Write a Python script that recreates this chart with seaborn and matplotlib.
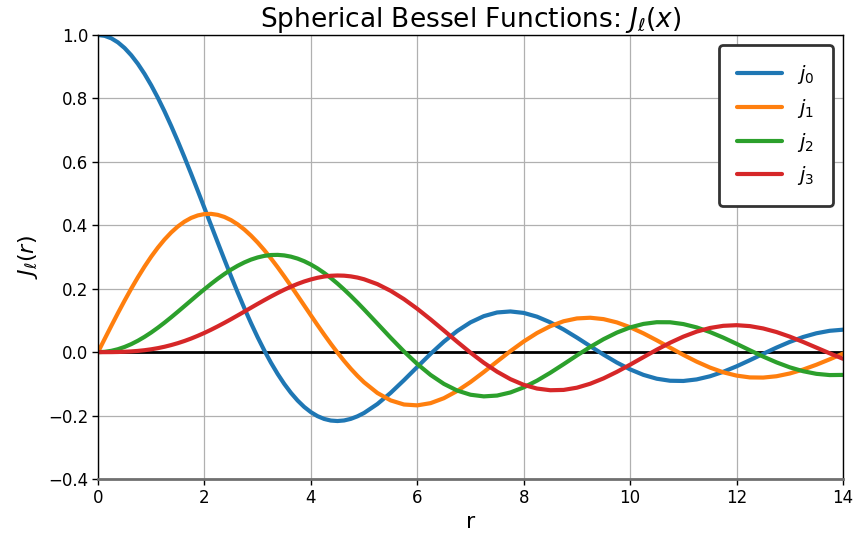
import matplotlib
matplotlib.use("Agg")
import matplotlib.pyplot as plt
import seaborn as sns
import pandas as pd

# Sample positions along r (finer spacing where the curves bend most)
r = [0.0, 0.125, 0.25, 0.375, 0.5, 0.625, 0.75, 0.875, 1.0, 1.125, 1.25, 1.375,
     1.5, 1.625, 1.75, 1.875, 2.0, 2.125, 2.25, 2.375, 2.5, 2.625, 2.75, 2.875,
     3.0, 3.125, 3.25, 3.375, 3.5, 3.625, 3.75, 3.875, 4.0, 4.125, 4.25, 4.375,
     4.5, 4.625, 4.75, 4.875, 5.0,
     5.25, 5.5, 5.75, 6.0, 6.25, 6.5, 6.75, 7.0, 7.25, 7.5, 7.75, 8.0,
     8.25, 8.5, 8.75, 9.0, 9.25, 9.5, 9.75, 10.0, 10.25, 10.5, 10.75, 11.0,
     11.25, 11.5, 11.75, 12.0, 12.25, 12.5, 12.75, 13.0, 13.25, 13.5, 13.75, 14.0]

j0 = [1.0, 0.9974, 0.9896, 0.9767, 0.9589, 0.9362, 0.9089, 0.8772, 0.8415,
      0.8020, 0.7592, 0.7134, 0.6650, 0.6145, 0.5623, 0.5088, 0.4546, 0.4002,
      0.3458, 0.2921, 0.2394, 0.1882, 0.1388, 0.0916, 0.0470, 0.0053, -0.0333,
      -0.0685, -0.1002, -0.1282, -0.1524, -0.1728, -0.1892, -0.2018, -0.2106,
      -0.2157, -0.2172, -0.2154, -0.2104, -0.2024, -0.1918,
      -0.1636, -0.1283, -0.0884, -0.0466, -0.0053, 0.0331, 0.0667, 0.0939,
      0.1135, 0.1251, 0.1283, 0.1237, 0.1118, 0.0939, 0.0714, 0.0458, 0.0188,
      -0.0079, -0.0328, -0.0544, -0.0717, -0.0838, -0.0902, -0.0909, -0.0860,
      -0.0761, -0.0620, -0.0447, -0.0254, -0.0053, 0.0143, 0.0323, 0.0477,
      0.0595, 0.0673, 0.0708]

j1 = [0.0, 0.0416, 0.0828, 0.1233, 0.1625, 0.2003, 0.2362, 0.2699, 0.3012,
      0.3296, 0.3551, 0.3773, 0.3962, 0.4115, 0.4232, 0.4311, 0.4354, 0.4360,
      0.4329, 0.4263, 0.4162, 0.4029, 0.3866, 0.3674, 0.3457, 0.3217, 0.2956,
      0.2680, 0.2389, 0.2089, 0.1782, 0.1471, 0.1161, 0.0854, 0.0554, 0.0264,
      -0.0014, -0.0277, -0.0522, -0.0747, -0.0951,
      -0.1287, -0.1522, -0.1651, -0.1678, -0.1608, -0.1452, -0.1224, -0.0943,
      -0.0627, -0.0295, 0.0032, 0.0336, 0.0603, 0.0819, 0.0974, 0.1063, 0.1085,
      0.1041, 0.0938, 0.0785, 0.0592, 0.0373, 0.0142, -0.0087, -0.0300,
      -0.0486, -0.0636, -0.0740, -0.0797, -0.0802, -0.0760, -0.0673, -0.0549,
      -0.0397, -0.0226, -0.0047]

j2 = [0.0, 0.0010, 0.0041, 0.0093, 0.0164, 0.0253, 0.0360, 0.0483, 0.0620,
      0.0770, 0.0930, 0.1099, 0.1274, 0.1452, 0.1631, 0.1810, 0.1984, 0.2153,
      0.2314, 0.2463, 0.2601, 0.2723, 0.2829, 0.2918, 0.2986, 0.3035, 0.3062,
      0.3067, 0.3050, 0.3011, 0.2950, 0.2867, 0.2763, 0.2639, 0.2497, 0.2338,
      0.2163, 0.1974, 0.1774, 0.1564, 0.1347,
      0.0901, 0.0453, 0.0022, -0.0373, -0.0719, -0.1001, -0.1211, -0.1343,
      -0.1395, -0.1369, -0.1271, -0.1111, -0.0899, -0.0650, -0.0380, -0.0103,
      0.0164, 0.0408, 0.0616, 0.0779, 0.0890, 0.0944, 0.0942, 0.0885, 0.0780,
      0.0634, 0.0458, 0.0262, 0.0059, -0.0140, -0.0322, -0.0479, -0.0601,
      -0.0684, -0.0723, -0.0718]

j3 = [0.0, 0.0000, 0.0001, 0.0005, 0.0012, 0.0023, 0.0039, 0.0061, 0.0090,
      0.0126, 0.0170, 0.0223, 0.0283, 0.0352, 0.0429, 0.0515, 0.0607, 0.0707,
      0.0813, 0.0924, 0.1039, 0.1158, 0.1278, 0.1400, 0.1521, 0.1639, 0.1754,
      0.1864, 0.1968, 0.2064, 0.2151, 0.2228, 0.2292, 0.2345, 0.2384, 0.2408,
      0.2417, 0.2411, 0.2389, 0.2352, 0.2298,
      0.2145, 0.1933, 0.1671, 0.1367, 0.1033, 0.0682, 0.0327, -0.0016, -0.0335,
      -0.0617, -0.0852, -0.1031, -0.1148, -0.1201, -0.1191, -0.1121, -0.0996,
      -0.0827, -0.0622, -0.0395, -0.0158, 0.0077, 0.0296, 0.0489, 0.0647,
      0.0762, 0.0830, 0.0850, 0.0821, 0.0747, 0.0634, 0.0489, 0.0322, 0.0143,
      -0.0037, -0.0209]

labels = [r"$j_0$", r"$j_1$", r"$j_2$", r"$j_3$"]
colors = ["#1f77b4", "#ff7f0e", "#2ca02c", "#d62728"]

frames = []
for lab, vals in zip(labels, [j0, j1, j2, j3]):
    frames.append(pd.DataFrame({"r": r, "value": vals, "order": lab}))
df = pd.concat(frames, ignore_index=True)

sns.set_style("whitegrid")
plt.rcParams["font.family"] = ["DejaVu Sans"]
plt.rcParams["mathtext.fontset"] = "dejavusans"
plt.rcParams["text.color"] = "black"
plt.rcParams["axes.labelcolor"] = "black"

fig = plt.figure(figsize=(8.56, 5.33), dpi=100)
ax = fig.add_axes([98 / 856, 1 - 479 / 533, 745 / 856, 444 / 533])

ax.axhline(0, color="black", linewidth=2, zorder=1.5)
sns.lineplot(data=df, x="r", y="value", hue="order", palette=colors,
             linewidth=3, ax=ax, legend=True, zorder=2, sort=False)

ax.set_xlim(0, 14)
ax.set_ylim(-0.4, 1.0)
ax.set_xticks([0, 2, 4, 6, 8, 10, 12, 14])
ax.set_yticks([-0.4, -0.2, 0.0, 0.2, 0.4, 0.6, 0.8, 1.0])
ax.grid(True, color="#b0b0b0", linewidth=0.9)
ax.set_axisbelow(True)

for side in ["left", "right", "top"]:
    ax.spines[side].set_color("black")
    ax.spines[side].set_linewidth(1.0)
    ax.spines[side].set_visible(True)
ax.spines["bottom"].set_color("#707070")
ax.spines["bottom"].set_linewidth(2.0)
ax.spines["bottom"].set_visible(True)

ax.tick_params(axis="both", which="both", direction="out", length=4,
               width=1, color="black", labelsize=12, labelcolor="black",
               left=True, bottom=True, pad=3)

ax.set_title(r"Spherical Bessel Functions: $J_\ell(x)$", fontsize=19, pad=5,
             color="black")
ax.set_xlabel("r", fontsize=16, labelpad=4, color="black")
ax.set_ylabel(r"$J_\ell(r)$", fontsize=16, labelpad=6, color="black")

handles, _ = ax.get_legend_handles_labels()
leg = ax.legend(handles, labels, loc="upper right", fontsize=14,
                frameon=True, fancybox=True, framealpha=1.0,
                handlelength=2.3, handletextpad=0.8, borderpad=0.95,
                labelspacing=0.55, borderaxespad=0.5)
for txt in leg.get_texts():
    txt.set_color("black")
frame = leg.get_frame()
frame.set_edgecolor("#333333")
frame.set_linewidth(2.0)
frame.set_facecolor("white")

fig.savefig("out.png", dpi=100)
